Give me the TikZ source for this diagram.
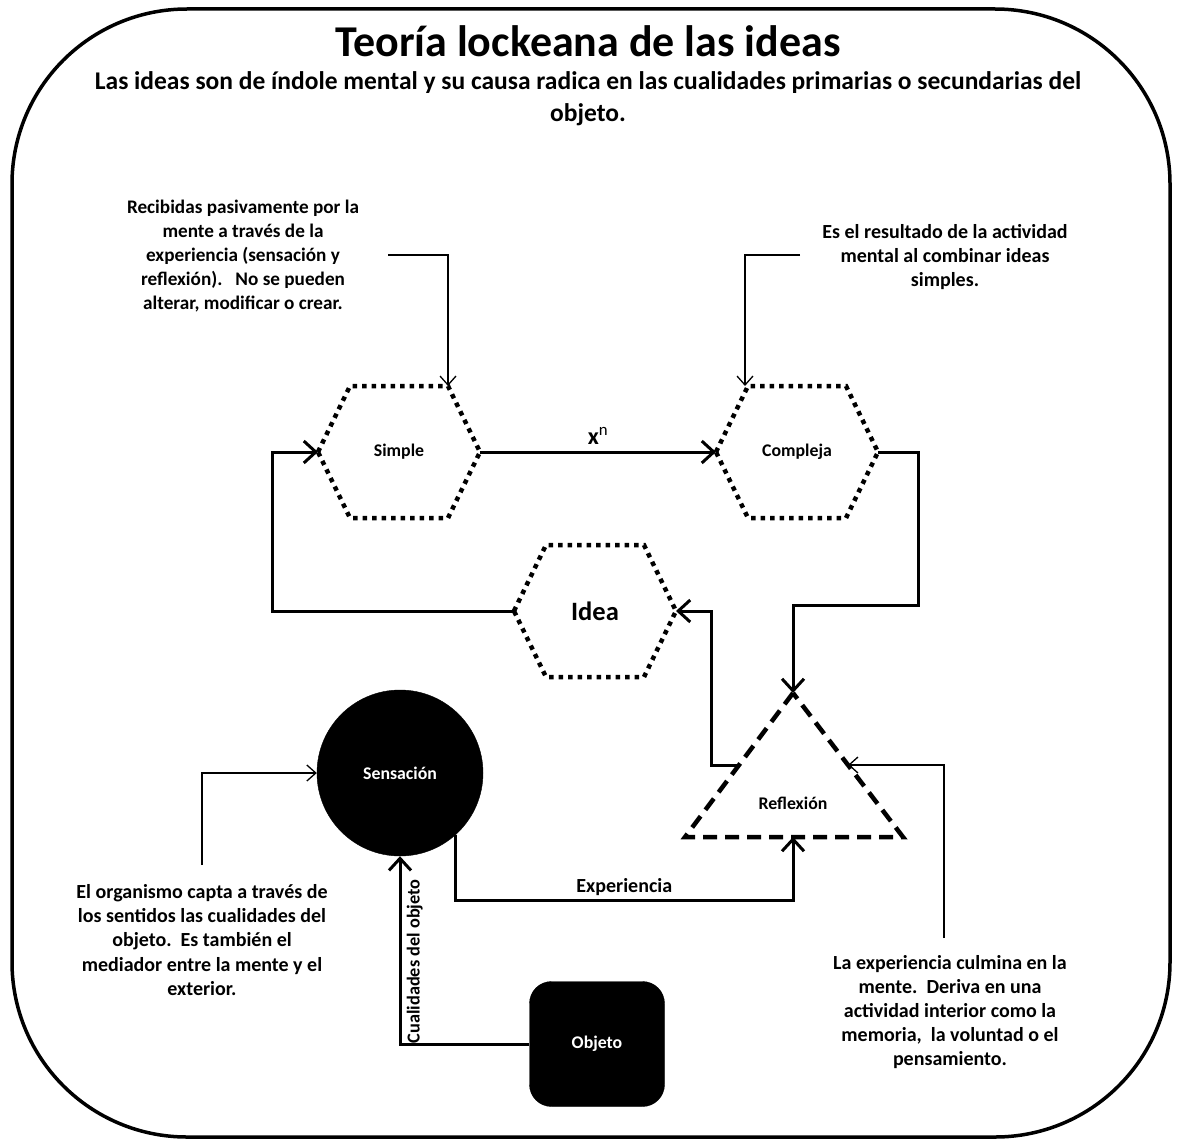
\documentclass[tikz,border=0pt]{standalone}
\usepackage{fontspec}
\setmainfont{Carlito}
\usetikzlibrary{arrows.meta,calc}

% hexagon drawn around a named centre node: name, cx, cy, text
\newcommand\hexbox[4]{%
  \coordinate (#1-l)  at (#2-81,#3);
  \coordinate (#1-r)  at (#2+81,#3);
  \coordinate (#1-tl) at (#2-49,#3-66);
  \coordinate (#1-tr) at (#2+49,#3-66);
  \coordinate (#1-bl) at (#2-49,#3+66);
  \coordinate (#1-br) at (#2+49,#3+66);
  \draw[hexline] (#1-l) -- (#1-tl) -- (#1-tr) -- (#1-r) -- (#1-br) -- (#1-bl) -- cycle;
  \node (#1) at (#2,#3) {#4};
}

\begin{document}
\begin{tikzpicture}[x=1pt,y=-1pt,
  every node/.style={font=\bfseries\fontsize{17.8}{21}\selectfont},
  hexline/.style={line width=4.5pt, dash pattern=on 4.5pt off 5pt},
  triline/.style={line width=4.5pt, dash pattern=on 14pt off 8pt},
  conn/.style={line width=3pt, -{Straight Barb[length=12pt,width=22pt,line width=3pt]}},
  note/.style={line width=1.3pt, -{Straight Barb[length=9pt,width=16pt,line width=1.3pt]}},
  caption/.style={align=center, font=\bfseries\fontsize{20}{24.2}\selectfont},
  solid shape/.style={fill=black, draw=black, text=white}]

\useasboundingbox (0,0) rectangle (1177,1140);
\fill[white] (0,0) rectangle (1177,1140);

% outer frame
\draw[line width=3.5pt, rounded corners=175pt] (12,9) rectangle (1170,1137);

% headings
\node[font=\bfseries\fontsize{44}{50}\selectfont] (title) at (588,41) {Teoría lockeana de las ideas};
\node[align=center, font=\bfseries\fontsize{25.5}{32}\selectfont] (subtitle) at (588,99)
  {Las ideas son de índole mental y su causa radica en las cualidades primarias o secundarias del\\objeto.};

% idea shapes
\hexbox{simple}{399}{452}{Simple}
\hexbox{comp}{797}{452}{Compleja}
\hexbox{idea}{595}{611}{\fontsize{26.5}{30}\selectfont Idea}

% reflection triangle
\coordinate (refl-t) at (793,693);
\coordinate (refl-bl) at (685,837);
\coordinate (refl-br) at (903,837);
\coordinate (refl-b) at (793,837);
\coordinate (refl-ls) at (739,765);
\coordinate (refl-rs) at (848,765);
\draw[triline] (refl-t) -- (refl-bl) -- (refl-br) -- cycle;
\node (refl) at (793,803) {Reflexión};

% sensation and object
\node[solid shape, circle, minimum size=166pt, inner sep=0pt] (sens) at (400,773) {Sensación};
\node[solid shape, rounded corners=22pt, minimum width=135pt, minimum height=125pt] (obj) at (597,1044) {Objeto};

% main connectors
\draw[conn] (simple-r) -- node[above=3pt, font=\bfseries\fontsize{24}{28}\selectfont] (xn) {x$^{\mathrm{n}}$} (comp-l);
\draw[conn] (comp-r) -- ++(40,0) |- ($(refl-t)+(0,-88)$) -- (refl-t);
\draw[conn] (refl-ls) -| ($(idea-r)+(35,0)$) -- (idea-r);
\draw[conn] (idea-l) -| ($(simple-l)+(-46,0)$) -- (simple-l);
\draw[conn] (sens.-48) |- ($(refl-b)+(0,63)$)
  node[pos=0.75, above=0pt, font=\bfseries\fontsize{20}{24}\selectfont] (exp) {Experiencia}
  -- (refl-b);
\draw[conn] (obj.west) -| node[pos=0.72, right=2pt, rotate=90, anchor=north, font=\bfseries\fontsize{18.3}{22}\selectfont] (cual) {Cualidades del objeto} (sens.south);

% explanatory notes
\node[caption, font=\bfseries\fontsize{19.2}{24.2}\selectfont] (noteA) at (243,256) {Recibidas pasivamente por la\\mente a través de la\\experiencia (sensación y\\reflexión).\ \ \ No se pueden\\alterar, modificar o crear.};
\node[caption] (noteB) at (945,257) {Es el resultado de la actividad\\mental al combinar ideas\\simples.};
\node[caption] (noteC) at (202,940) {El organismo capta a través de\\los sentidos las cualidades del\\objeto.\ \ Es también el\\mediador entre la mente y el\\exterior.};
\node[caption] (noteD) at (950,1012) {La experiencia culmina en la\\mente.\ \ Deriva en una\\actividad interior como la\\memoria,\ \ la voluntad o el\\pensamiento.};

\coordinate (a0) at (388,255);
\coordinate (b0) at (800,255);
\coordinate (c0) at (202,865);
\coordinate (d0) at (944,938);
\draw[note] (a0) -| (simple-tr);
\draw[note] (b0) -| ($(comp-tl)+(-3,0)$);
\draw[note] (c0) |- (sens.west);
\draw[note] (d0) |- (refl-rs);

\end{tikzpicture}
\end{document}
